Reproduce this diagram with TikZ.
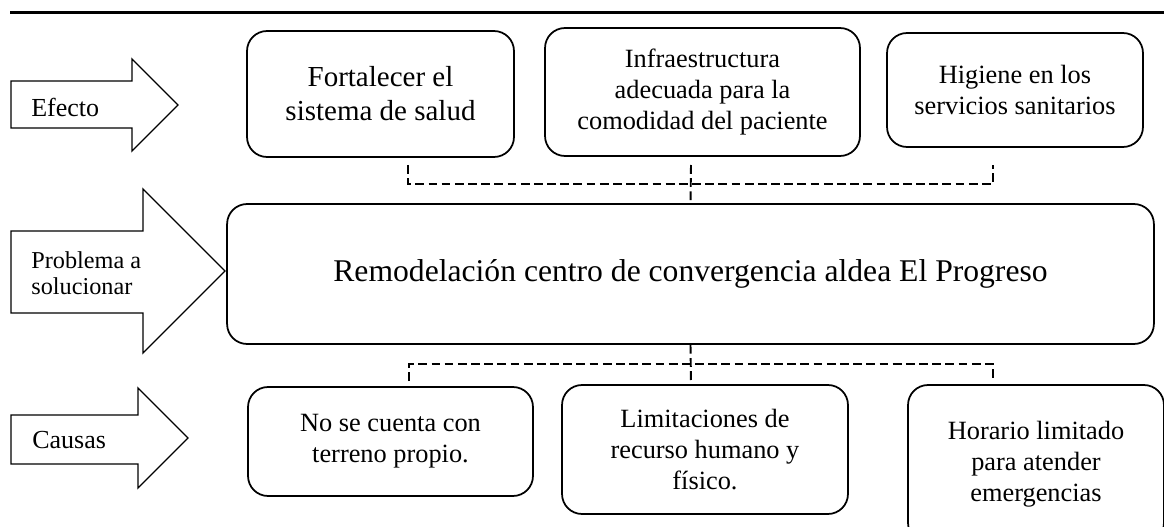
\documentclass[tikz,border=0pt]{standalone}
\usepackage{fontspec}
\setmainfont{Liberation Serif}

\begin{document}
\begin{tikzpicture}[x=0.02cm,y=-0.02cm,
	box/.style={
	rectangle,
	rounded corners=4mm,
	line width=1pt,
	draw=black,
	inner sep=0pt,
	align=center,
	font=\fontsize{15}{17.6}\selectfont
	},bigarrow/.style={
	draw=black,line width=0.8pt,line join=miter
	},sidetext/.style={
	anchor=west,align=left,inner sep=0pt,
	font=\fontsize{14.8}{16}\selectfont
	},link/.style={
	draw=black,line width=1.1pt,dash pattern=on 5pt off 2.5pt
	}
]
\useasboundingbox (0,0) rectangle (1164,527);
\clip (0,0) rectangle (1164,527);

% rule on top
\draw[line width=1.4pt] (10,12.5) -- (1164,12.5);

% row labels
\draw[bigarrow] (11,81) -- (132,81) -- (132,59) -- (178,105) -- (132,151) -- (132,128) -- (11,128) -- cycle;
\draw[bigarrow] (11,231) -- (143,231) -- (143,189) -- (225,271) -- (143,353) -- (143,313) -- (11,313) -- cycle;
\draw[bigarrow] (11,415) -- (138,415) -- (138,388) -- (188,438) -- (138,488) -- (138,464) -- (11,464) -- cycle;
\node (efecto) [sidetext] at (31,107) {Efecto};
\node (problema) [sidetext,font=\fontsize{13.8}{14.8}\selectfont] at (31,273) {Problema a\\solucionar};
\node (causas) [sidetext] at (32,440) {Causas};

% effects
\node (eff1) [box,minimum width=5.34cm,minimum height=2.52cm,font=\fontsize{16.5}{19.3}\selectfont] at (380.5,94) {Fortalecer el\\sistema de salud};
\node (eff2) [box,minimum width=6.3cm,minimum height=2.56cm] at (702.5,92) {Infraestructura\\adecuada para la\\comodidad del paciente};
\node (eff3) [box,minimum width=5.12cm,minimum height=2.28cm] at (1015,90) {Higiene en los\\servicios sanitarios};

% problem
\node (main) [box,minimum width=18.54cm,minimum height=2.8cm,font=\fontsize{18}{21}\selectfont] at (690.5,274) {Remodelación centro de convergencia aldea El Progreso};

% causes
\node (cau1) [box,minimum width=5.7cm,minimum height=2.18cm] at (390.5,441.5) {No se cuenta con\\terreno propio.};
\node (cau2) [box,minimum width=5.72cm,minimum height=2.58cm] at (705,449.5) {Limitaciones de\\recurso humano y\\físico.};
\node (cau3) [box,minimum width=5.12cm,minimum height=3.16cm] at (1036,464) {Horario limitado\\para atender\\emergencias};

% dashed links
\coordinate (tl) at (408,165);
\coordinate (tm) at (691,165);
\coordinate (tr) at (993,165);
\coordinate (tbus) at (691,184);
\path[link] (tl) |- (tbus) -| (tr);
\path[link] (tm) -- (main.north);

\coordinate (bl) at (409,381);
\coordinate (bm) at (691,383);
\coordinate (br) at (993,381);
\coordinate (bbus) at (691,364);
\path[link] (bl) |- (bbus) -| (br);
\path[link] (main.south) -- (bm);

\end{tikzpicture}
\end{document}
